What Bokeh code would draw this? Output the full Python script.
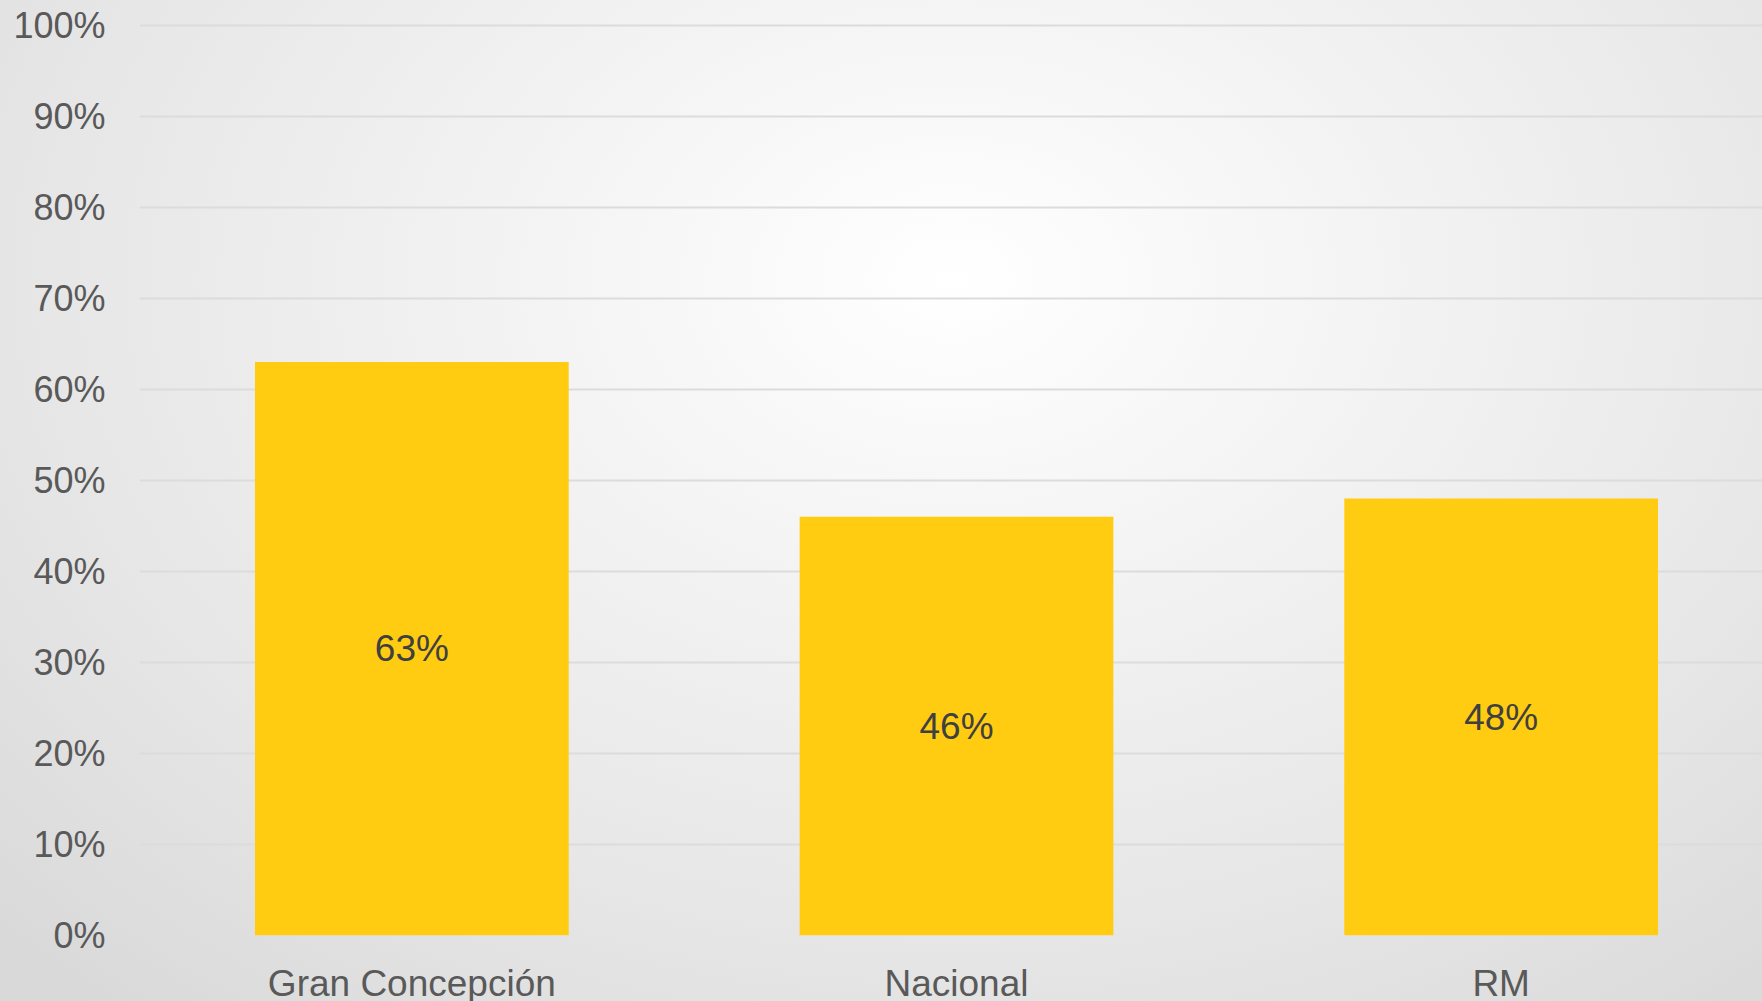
from bokeh.plotting import figure
from bokeh.models import (ColumnDataSource, Range1d, FactorRange, NumeralTickFormatter,
                          FixedTicker, GlobalInlineStyleSheet)
from bokeh.core.properties import value
from bokeh.embed import file_html
from bokeh.resources import INLINE

categories = ["Gran Concepción", "Nacional", "RM"]
values = [0.63, 0.46, 0.48]
labels = ["63%", "46%", "48%"]
y_ticks = [0.0, 0.1, 0.2, 0.3, 0.4, 0.5, 0.6, 0.7, 0.8, 0.9, 1.0]

src = ColumnDataSource(dict(cat=categories, val=values,
                            mid=[v / 2 for v in values], lab=labels))

p = figure(x_range=FactorRange(*categories), y_range=Range1d(0, 1.003),
           frame_width=1634, frame_height=913,
           output_backend="svg", toolbar_location=None,
           min_border_left=139, min_border_right=0, min_border_top=22, min_border_bottom=0)

p.background_fill_alpha = 0
p.border_fill_alpha = 0
p.outline_line_color = None

p.vbar(x="cat", top="val", width=0.576, source=src, color="#FFCC12", line_color=None)
p.text(x="cat", y="mid", text="lab", source=src, text_align="center", text_baseline="middle",
       text_font=value("Liberation Sans"), text_font_size="37px", text_color="#404040")

p.yaxis.ticker = FixedTicker(ticks=y_ticks)
p.yaxis.formatter = NumeralTickFormatter(format="0%")
for ax in (p.xaxis[0], p.yaxis[0]):
    ax.axis_line_color = None
    ax.major_tick_line_color = None
    ax.minor_tick_line_color = None
    ax.major_tick_out = 0
    ax.major_tick_in = 0
    ax.major_label_text_font = "Liberation Sans"
    ax.major_label_text_color = "#595959"
p.yaxis.major_label_text_font_size = "36px"
p.xaxis.major_label_text_font_size = "37px"
p.yaxis.major_label_standoff = 34
p.xaxis.major_label_standoff = 27

p.xgrid.grid_line_color = None
p.ygrid.grid_line_color = "#dcdcdc"
p.ygrid.grid_line_width = 2

p.stylesheets = [GlobalInlineStyleSheet(css="""
html, body {
  background: radial-gradient(ellipse 75% 95% at 54% 28%, #ffffff 0%, #f6f6f6 25%, #e6e6e6 70%, #d9d9d9 100%) fixed;
  overflow: hidden;
}
""")]

open("out.html", "w").write(file_html(p, INLINE))
